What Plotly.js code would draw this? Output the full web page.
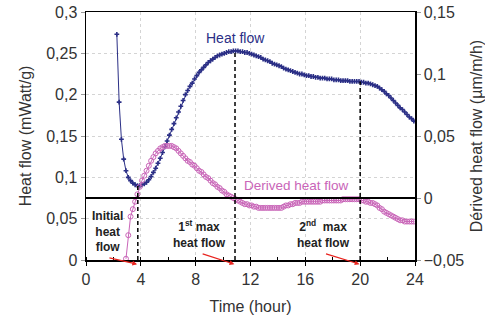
<!DOCTYPE html>
<html><head><meta charset="utf-8">
<script src="https://cdn.plot.ly/plotly-3.0.1.min.js"></script>
<style>html,body{margin:0;padding:0;background:#fff;}#chart{width:485px;height:325px;}</style>
</head><body><div id="chart"></div>
<script>
// Time in minutes (10-min readings)
const heatMinutes = [
  135,145,155,165,175,
  185,195,205,215,225,235,
  245,255,265,275,285,295,
  305,315,325,335,345,355,
  365,375,385,395,405,415,
  425,435,445,455,465,475,
  485,495,505,515,525,535,
  545,555,565,575,585,595,
  605,615,625,635,645,655,
  665,675,685,695,705,715,
  725,735,745,755,765,775,
  785,795,805,815,825,835,
  845,855,865,875,885,895,
  905,915,925,935,945,955,
  965,975,985,995,1005,1015,
  1025,1035,1045,1055,1065,1075,
  1085,1095,1105,1115,1125,1135,
  1145,1155,1165,1175,1185,1195,
  1205,1215,1225,1235,1245,1255,
  1265,1275,1285,1295,1305,1315,
  1325,1335,1345,1355,1365,1375,
  1385,1395,1405,1415,1425,1435
];
// Heat flow (mWatt/g), left axis
const heatFlow = [
  0.273,0.191,0.146,0.122,0.108,
  0.100,0.096,0.093,0.091,0.090,0.090,
  0.091,0.092,0.094,0.097,0.101,0.106,
  0.111,0.117,0.123,0.130,0.137,0.144,
  0.151,0.158,0.165,0.172,0.179,0.186,
  0.193,0.200,0.205,0.210,0.214,0.219,
  0.223,0.227,0.230,0.233,0.236,0.239,
  0.241,0.243,0.245,0.247,0.248,0.249,
  0.250,0.251,0.252,0.252,0.253,0.253,
  0.253,0.252,0.252,0.251,0.251,0.250,
  0.249,0.248,0.247,0.246,0.245,0.243,
  0.242,0.241,0.240,0.238,0.237,0.236,
  0.235,0.234,0.232,0.231,0.230,0.229,
  0.228,0.227,0.226,0.225,0.225,0.224,
  0.223,0.223,0.222,0.222,0.221,0.221,
  0.220,0.220,0.220,0.219,0.219,0.219,
  0.218,0.218,0.218,0.217,0.217,0.217,
  0.217,0.216,0.216,0.216,0.216,0.216,
  0.215,0.215,0.214,0.214,0.213,0.212,
  0.211,0.210,0.208,0.206,0.204,0.201,
  0.199,0.196,0.193,0.190,0.187,0.184,
  0.182,0.179,0.176,0.173,0.171,0.168
];
const derivedMinutes = [
  175,
  185,195,205,215,225,235,
  245,255,265,275,285,295,
  305,315,325,335,345,355,
  365,375,385,395,405,415,
  425,435,445,455,465,475,
  485,495,505,515,525,535,
  545,555,565,575,585,595,
  605,615,625,635,645,655,
  665,675,685,695,705,715,
  725,735,745,755,765,775,
  785,795,805,815,825,835,
  845,855,865,875,885,895,
  905,915,925,935,945,955,
  965,975,985,995,1005,1015,
  1025,1035,1045,1055,1065,1075,
  1085,1095,1105,1115,1125,1135,
  1145,1155,1165,1175,1185,1195,
  1205,1215,1225,1235,1245,1255,
  1265,1275,1285,1295,1305,1315,
  1325,1335,1345,1355,1365,1375,
  1385,1395,1405,1415,1425,1435
];
// Derived heat flow (µm/m/h), right axis
const derivedFlow = [
  -0.049,
  -0.030,-0.015,-0.009,-0.003,0.003,0.009,
  0.014,0.018,0.022,0.026,0.030,0.033,
  0.036,0.038,0.040,0.041,0.042,0.042,
  0.042,0.042,0.041,0.040,0.038,0.036,
  0.034,0.032,0.030,0.029,0.027,0.026,
  0.024,0.022,0.021,0.019,0.017,0.016,
  0.014,0.012,0.011,0.009,0.008,0.006,
  0.005,0.003,0.002,0.001,0.000,-0.001,
  -0.002,-0.003,-0.004,-0.005,-0.005,-0.006,
  -0.006,-0.007,-0.007,-0.008,-0.008,-0.008,
  -0.008,-0.008,-0.008,-0.008,-0.008,-0.008,
  -0.008,-0.008,-0.007,-0.006,-0.006,-0.005,
  -0.005,-0.004,-0.004,-0.004,-0.003,-0.003,
  -0.003,-0.003,-0.003,-0.003,-0.003,-0.003,
  -0.003,-0.002,-0.002,-0.002,-0.002,-0.002,
  -0.002,-0.002,-0.002,-0.002,-0.001,-0.001,
  -0.001,-0.001,-0.001,-0.001,-0.001,-0.001,
  -0.002,-0.002,-0.003,-0.003,-0.004,-0.004,
  -0.005,-0.006,-0.008,-0.009,-0.011,-0.012,
  -0.013,-0.014,-0.015,-0.016,-0.017,-0.018,
  -0.018,-0.019,-0.019,-0.019,-0.019,-0.019
];
// Characteristic points: initial, 1st max, 2nd max
const keyTimes = [3.78, 10.87, 20.0];
const keyHeat = [0.090, 0.253, 0.216];
const keyLabels = ["<b>Initial<br>heat<br>flow</b>", "<b>1<sup>st</sup> max<br>heat flow</b>", "<b>2<sup>nd</sup>  max<br>heat flow</b>"];
const arrowStartTimes = [1.6, 8.4, 17.4];

const toHours = m => m.map(v => v / 60);
const navy = '#2B2F86';
const pink = '#C965B8';
const font = 'Liberation Sans, Arial, sans-serif';

const traces = [
  {x: toHours(derivedMinutes), y: derivedFlow, yaxis: 'y2', mode: 'lines+markers',
   line: {color: pink, width: 1}, marker: {symbol: 'circle-open', size: 5, color: pink, line: {width: 1, color: pink}},
   showlegend: false, cliponaxis: true},
  {x: toHours(heatMinutes), y: heatFlow, mode: 'lines+markers',
   line: {color: navy, width: 1}, marker: {symbol: 'cross', size: 4, color: navy},
   showlegend: false, cliponaxis: true}
];

const shapes = keyTimes.map((t, i) => ({
  type: 'line', xref: 'x', yref: 'y', x0: t, x1: t, y0: 0, y1: keyHeat[i],
  line: {color: '#000', width: 1.5, dash: '4px,3px'}
}));
shapes.push({type: 'line', xref: 'paper', yref: 'y2', x0: 0, x1: 1, y0: 0, y1: 0, line: {color: '#000', width: 2}});

const labelPos = [[1.6, 0.035], [8.28, 0.031], [17.32, 0.031]];
const annotations = keyLabels.map((txt, i) => ({
  x: labelPos[i][0], y: labelPos[i][1], xref: 'x', yref: 'y', text: txt, showarrow: false,
  font: {family: font, size: 12, color: '#222'}, align: 'center'
}));
keyTimes.forEach((t, i) => {
  annotations.push({x: t - 0.05, y: -0.005, xref: 'x', yref: 'y', ax: arrowStartTimes[i], ay: 0.008 - (i === 0 ? 0.005 : 0),
    axref: 'x', ayref: 'y', text: '', showarrow: true, arrowhead: 2, arrowsize: 0.8, arrowwidth: 1.2, arrowcolor: '#E8231E'});
});
annotations.push({x: 10.87, y: 0.2686, xref: 'x', yref: 'y', text: 'Heat flow', showarrow: false,
  font: {family: font, size: 14, color: navy}});
annotations.push({x: 15.39, y: 0.0907, xref: 'x', yref: 'y', text: 'Derived heat flow', showarrow: false,
  font: {family: font, size: 13.5, color: pink}});

const layout = {
  width: 485, height: 325,
  margin: {l: 86, r: 70, t: 12, b: 65},
  paper_bgcolor: '#fff', plot_bgcolor: '#fff',
  separators: ', ',
  font: {family: font, size: 16, color: '#333'},
  showlegend: false,
  xaxis: {range: [0, 24], dtick: 4, tick0: 0, showline: true, linecolor: '#000', linewidth: 1.5, mirror: true,
    ticks: 'outside', ticklen: 4, tickcolor: '#000', showgrid: true, gridcolor: '#d4d4d4', griddash: 'dot', zeroline: false,
    minor: {dtick: 2, ticks: 'inside', ticklen: 3, tickcolor: '#000', showgrid: false},
    title: {text: 'Time (hour)', font: {size: 16, color: '#333'}, standoff: 14},
    tickfont: {size: 16, color: '#333'}},
  yaxis: {range: [0, 0.3], dtick: 0.05, tick0: 0, showline: true, linecolor: '#000', linewidth: 1.5,
    ticks: 'outside', ticklen: 4, tickcolor: '#999', showgrid: true, gridcolor: '#d4d4d4', griddash: 'dot', zeroline: false,
    title: {text: 'Heat flow (mWatt/g)', font: {size: 16, color: '#333'}, standoff: 10},
    tickfont: {size: 16, color: '#333'}},
  yaxis2: {range: [-0.05, 0.15], dtick: 0.05, tick0: 0, overlaying: 'y', side: 'right', showline: true, linecolor: '#000', linewidth: 1.5,
    ticks: 'outside', ticklen: 4, tickcolor: '#999', showgrid: false, zeroline: false,
    title: {text: 'Dérived heat flow (µm/m/h)', font: {size: 16, color: '#333'}, standoff: 10},
    tickfont: {size: 16, color: '#333'}},
  shapes: shapes,
  annotations: annotations
};

Plotly.newPlot('chart', traces, layout, {staticPlot: true, displayModeBar: false});
</script>
</body></html>
